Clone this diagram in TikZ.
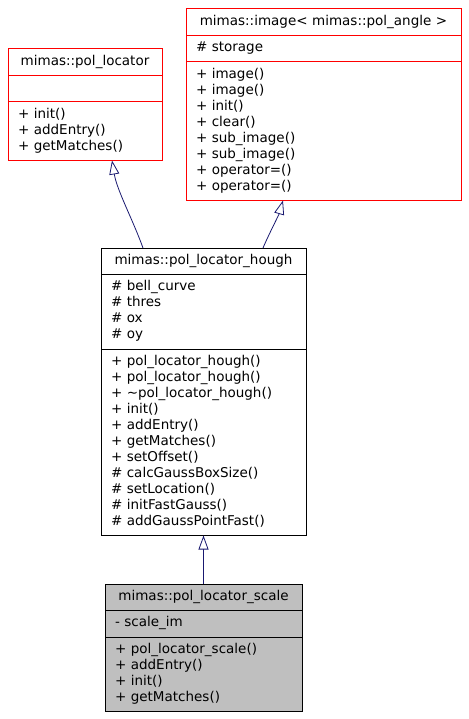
\documentclass[tikz,border=0pt]{standalone}
\usepackage{fontspec}
\setmainfont{DejaVu Sans}
\usetikzlibrary{positioning,arrows.meta}

\definecolor{navy}{HTML}{191970}
\definecolor{boxgrey}{HTML}{BFBFBF}

\tikzstyle{classbox} = [draw=black, fill=white, line width=1pt, rectangle,
    outer sep=0pt, inner xsep=10pt, inner ysep=5.25pt, align=left,
    font=\fontsize{13.5}{16}\selectfont,
    execute at begin node=\strut, execute at end node=\strut]
\tikzstyle{classtitle} = [classbox, align=center, anchor=north west]
\tikzstyle{redbox} = [draw=red]
\tikzstyle{greybox} = [fill=boxgrey]
\tikzstyle{inherit} = [draw=navy, line width=0.8pt,
    -{Triangle[open, length=14pt, width=10pt, fill=white]}]

\begin{document}
\begin{tikzpicture}
\useasboundingbox (0,0) rectangle (468pt,-719pt);

% base classes
\node [classtitle, redbox, text width=134pt] (loc) at (8pt,-49pt) {mimas::pol\_locator};
\node [classbox, redbox, text width=134pt, below=0pt of loc] (locattr) {};
\node [classbox, redbox, text width=134pt, below=0pt of locattr] (locops) {%
    + init()\\+ addEntry()\\+ getMatches()};

\node [classtitle, redbox, text width=255pt] (img) at (186pt,-9pt) {mimas::image< mimas::pol\_angle >};
\node [classbox, redbox, text width=255pt, below=0pt of img] (imgattr) {\# storage};
\node [classbox, redbox, text width=255pt, below=0pt of imgattr] (imgops) {%
    + image()\\+ image()\\+ init()\\+ clear()\\+ sub\_image()\\+ sub\_image()\\%
    + operator=()\\+ operator=()};

% hough
\node [classtitle, text width=185pt] (hough) at (101pt,-248pt) {mimas::pol\_locator\_hough};
\node [classbox, text width=185pt, below=0pt of hough] (houghattr) {%
    \# bell\_curve\\\# thres\\\# ox\\\# oy};
\node [classbox, text width=185pt, below=0pt of houghattr] (houghops) {%
    + pol\_locator\_hough()\\+ pol\_locator\_hough()\\+ \textasciitilde pol\_locator\_hough()\\%
    + init()\\+ addEntry()\\+ getMatches()\\+ setOffset()\\\# calcGaussBoxSize()\\%
    \# setLocation()\\\# initFastGauss()\\\# addGaussPointFast()};

% scale
\node [classtitle, greybox, text width=177pt] (scale) at (105pt,-584pt) {mimas::pol\_locator\_scale};
\node [classbox, greybox, text width=177pt, below=0pt of scale] (scaleattr) {- scale\_im};
\node [classbox, greybox, text width=177pt, below=0pt of scaleattr] (scaleops) {%
    + pol\_locator\_scale()\\+ addEntry()\\+ init()\\+ getMatches()};

% inheritance
\draw [inherit] ([xshift=42pt]hough.north west) .. controls +(-10pt,28pt) and +(5pt,-30pt) .. ([xshift=104pt]locops.south west);
\draw [inherit] ([xshift=162pt]hough.north west) .. controls +(5pt,12pt) and +(-4pt,-14pt) .. ([xshift=97pt]imgops.south west);
\draw [inherit] (scale) -- (houghops);
\end{tikzpicture}
\end{document}
